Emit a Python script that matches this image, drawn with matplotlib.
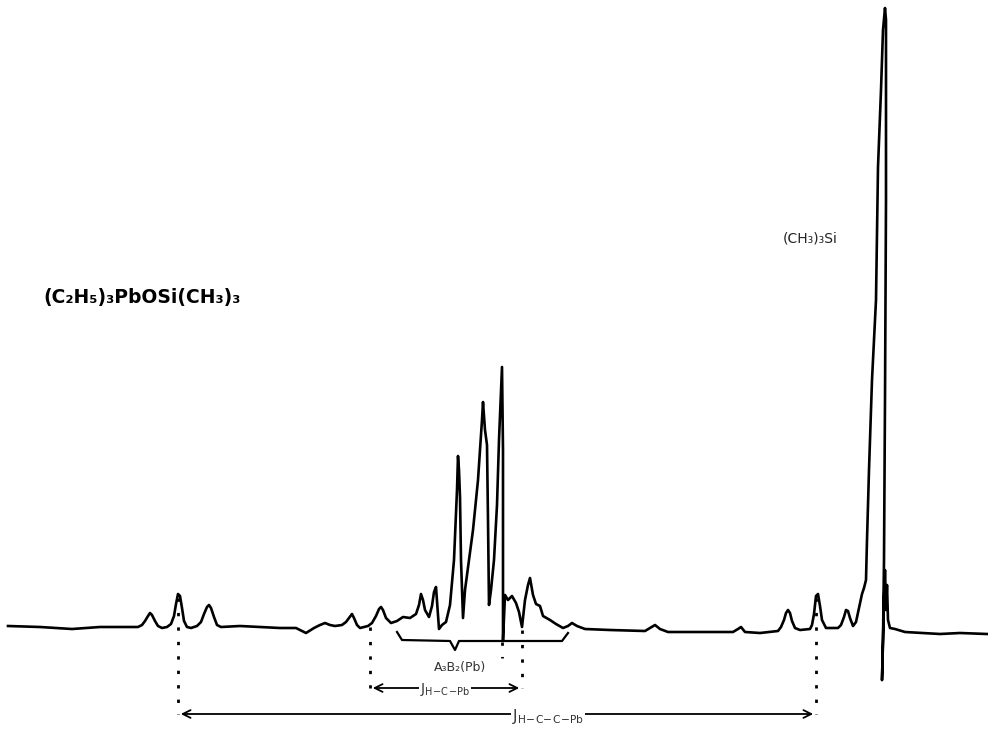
import matplotlib.pyplot as plt

# Спектр ПМР (C2H5)3PbOSi(CH3)3 — точки кривой
# (x — положение по развёртке, h — интенсивность над базовой линией)
trace = [(8, 4), (40, 3), (72, 1), (100, 3), (138, 3), (142, 5), (145, 9), (148, 14),
         (150, 17), (152, 15), (155, 9), (158, 4), (162, 2), (167, 3), (171, 6),
         (174, 14), (176, 26), (178, 36), (180, 34), (182, 22), (184, 9), (187, 3),
         (191, 2), (197, 4), (201, 8), (204, 16), (207, 23), (209, 25), (211, 22),
         (214, 13), (217, 5), (221, 3), (240, 4), (280, 2), (296, 2), (306, -3),
         (314, 2), (320, 5), (325, 7), (330, 5), (335, 4), (342, 5), (346, 8),
         (349, 12), (352, 16), (354, 12), (357, 5), (360, 2), (368, 4), (372, 7),
         (376, 14), (379, 21), (381, 23), (383, 20), (386, 12), (391, 7), (397, 9),
         (403, 13), (410, 12), (416, 16), (419, 25), (421, 36), (423, 30), (425, 20),
         (429, 13), (432, 24), (434, 38), (436, 43), (439, 1), (442, 5), (446, 8),
         (450, 25), (454, 70), (457, 140), (458, 174), (459, 160), (460, 133),
         (461, 70), (463, 12), (465, 40), (469, 70), (473, 100), (476, 130),
         (478, 150), (480, 180), (482, 210), (483, 228), (485, 200), (487, 185),
         (488, 110), (489, 25), (491, 40), (494, 70), (497, 125), (499, 190),
         (501, 240), (502, 263), (503, 180), (503, -10), (505, 35), (508, 30),
         (512, 34), (516, 27), (519, 18), (522, 3), (525, 30), (528, 45), (530, 52),
         (533, 35), (536, 26), (540, 24), (543, 14), (550, 10), (556, 6), (563, 2),
         (568, 4), (572, 7), (577, 4), (585, 1), (610, 0), (645, -1), (650, 2),
         (655, 5), (660, 1), (668, -2), (700, -2), (733, -2), (738, 1), (741, 3),
         (745, -2), (760, -3), (778, -1), (781, 3), (784, 10), (786, 17), (788, 20),
         (790, 17), (792, 9), (795, 2), (800, 0), (810, 1), (812, 5), (814, 16),
         (816, 34), (818, 36), (820, 24), (822, 10), (826, 2), (838, 2), (841, 5),
         (844, 13), (846, 20), (848, 19), (850, 12), (853, 4), (856, 8), (859, 22),
         (862, 36), (864, 42), (866, 50), (867, 90), (869, 160), (872, 250),
         (876, 330), (878, 463), (881, 540), (883, 600), (885, 622), (886, 610),
         (886, 430), (885, 230), (884, 70), (883, -10), (882, -50), (883, -10),
         (884, 30), (885, 60), (886, 20), (887, 45), (888, 10), (890, 2), (895, 1),
         (905, -2), (940, -4), (960, -3), (987, -4)]
trace_x = [p[0] for p in trace]
trace_h = [p[1] for p in trace]

# метки
title_text = "(C₂H₅)₃PbOSi(CH₃)₃"
tms_text = "(CH₃)₃Si"
multiplet_text = "A₃B₂(Pb)"
j1_text = "J$_{\\mathrm{H\\!-\\!C\\!-\\!Pb}}$"
j2_text = "J$_{\\mathrm{H\\!-\\!C\\!-\\!C\\!-\\!Pb}}$"

fig = plt.figure(figsize=(9.88, 7.32), dpi=100)
ax = fig.add_axes([0, 0, 1, 1])
ax.set_xlim(0, 988)
ax.set_ylim(-102, 630)
ax.axis('off')

ax.plot(trace_x, trace_h, color='black', lw=1.9, solid_joinstyle='round')

# пунктирные вертикали к пикам
dots = dict(color='black', lw=2.0, linestyle=(0, (1.2, 4)))
ax.plot([178, 178], [32, -84], **dots)
ax.plot([816, 816], [32, -84], **dots)
ax.plot([370, 370], [3, -58], **dots)
ax.plot([522, 522], [0, -58], **dots)
ax.plot([502, 502], [-12, -28], **dots)

# фигурная скобка под мультиплетом
ax.plot([397, 402, 450, 455, 459, 562, 568], [-2, -10, -11, -20, -11, -11, -3],
        color='black', lw=1.6)

arrow = dict(arrowstyle='<->', color='black', lw=1.3, mutation_scale=14)
ax.annotate('', xy=(370, -58), xytext=(522, -58), arrowprops=arrow)
ax.annotate('', xy=(178, -84), xytext=(816, -84), arrowprops=arrow)

ax.text(142, 333, title_text, fontsize=13.5, fontweight='bold', ha='center', va='center')
ax.text(810, 392, tms_text, fontsize=10, color='#222222', ha='center', va='center')
ax.text(460, -38, multiplet_text, fontsize=9, color='#333333', ha='center', va='center')
ax.text(445, -60, j1_text, fontsize=10, color='#333333', ha='center', va='center',
        bbox=dict(facecolor='white', edgecolor='none', pad=1))
ax.text(548, -87, j2_text, fontsize=11, color='#333333', ha='center', va='center',
        bbox=dict(facecolor='white', edgecolor='none', pad=1))

plt.savefig('out.png', dpi=100)
